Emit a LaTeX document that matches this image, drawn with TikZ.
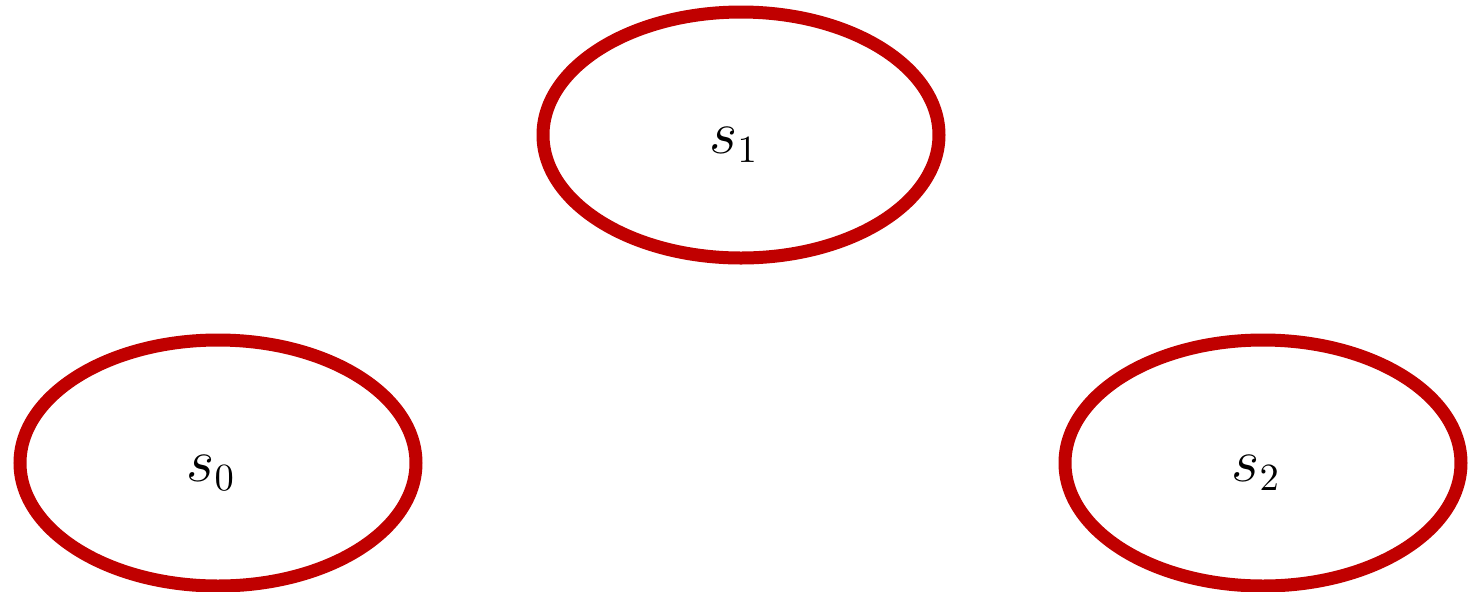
\documentclass[tikz,border=0pt]{standalone}
\usepackage{amsmath}
\usepackage{xcolor}
\usepackage{tikz}
\usetikzlibrary{shapes.geometric, positioning}
\definecolor{StateRed}{RGB}{192,0,0}
\tikzset{
  statenode/.style={ellipse, draw=StateRed, line width=0.13cm, fill=white,
    minimum width=3.96cm, minimum height=2.46cm, inner sep=0pt},
  statelab/.style={font=\fontsize{16}{19}\selectfont, inner sep=0pt},
}
\begin{document}
\begin{tikzpicture}
  \useasboundingbox (0,0) rectangle (14.71,-5.91);
  \node[statenode] (s1) at (7.41,-1.35) {};
  \node[statenode] (s0) at (2.18,-4.63) {};
  \node[statenode] (s2) at (12.63,-4.63) {};
  \node[statelab] (s1lab) at ([xshift=-0.07cm, yshift=-0.1cm]s1.center) {$s_1$};
  \node[statelab] (s0lab) at ([xshift=-0.07cm, yshift=-0.1cm]s0.center) {$s_0$};
  \node[statelab] (s2lab) at ([xshift=-0.07cm, yshift=-0.1cm]s2.center) {$s_2$};
\end{tikzpicture}
\end{document}
